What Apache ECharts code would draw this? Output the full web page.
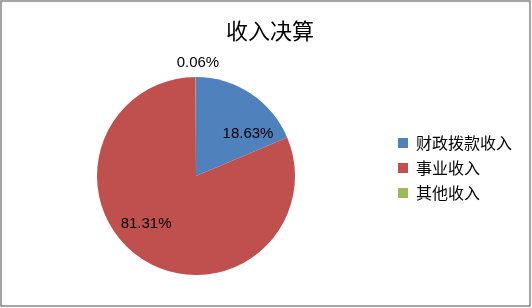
<!DOCTYPE html>
<html><head><meta charset="utf-8">
<script src="https://cdn.jsdelivr.net/npm/echarts@6/dist/echarts.min.js"></script>
<style>html,body{margin:0;padding:0;background:#fff}#c{width:532px;height:308px}</style>
</head><body><div id="c"></div>
<script>
var titleText = '收入决算';
var categories = ['财政拨款收入', '事业收入', '其他收入'];
var values = [18.63, 81.31, 0.06];
var colors = ['#4F81BD', '#C0504D', '#9BBB59'];
var labelOffsets = [[23, 2], [-21, 4], [2, -61]];

var chart = echarts.init(document.getElementById('c'), null, {renderer: 'canvas'});
chart.setOption({
  animation: false,
  color: colors,
  title: {
    text: titleText, left: 265, textAlign: 'center', top: 15,
    textStyle: {fontFamily: 'Noto Sans CJK SC', fontSize: 22, fontWeight: 'normal', color: '#000'}
  },
  legend: {
    orient: 'vertical', left: 398, top: 135, padding: 0,
    itemWidth: 10, itemHeight: 10, itemGap: 9, icon: 'rect',
    data: categories,
    textStyle: {fontFamily: 'Noto Sans CJK SC', fontSize: 16, lineHeight: 16, color: '#000', padding: [0, 0, 0, 3]}
  },
  graphic: [{
    type: 'rect', shape: {x: 1, y: 1, width: 529, height: 305},
    style: {fill: 'none', stroke: '#868686', lineWidth: 1.5}, silent: true, z: 100
  }],
  series: [{
    type: 'pie',
    center: [196, 176], radius: 99,
    startAngle: 90, clockwise: true,
    avoidLabelOverlap: false,
    itemStyle: {borderWidth: 0},
    label: {
      show: true, position: 'inside',
      fontFamily: 'Liberation Sans', fontSize: 15, color: '#000',
      formatter: function (p) { return p.value.toFixed(2) + '%'; }
    },
    labelLine: {show: false},
    labelLayout: function (p) {
      var o = labelOffsets[p.dataIndex];
      return {dx: o[0], dy: o[1]};
    },
    data: categories.map(function (c, i) { return {name: c, value: values[i]}; })
  }]
});
</script></body></html>
